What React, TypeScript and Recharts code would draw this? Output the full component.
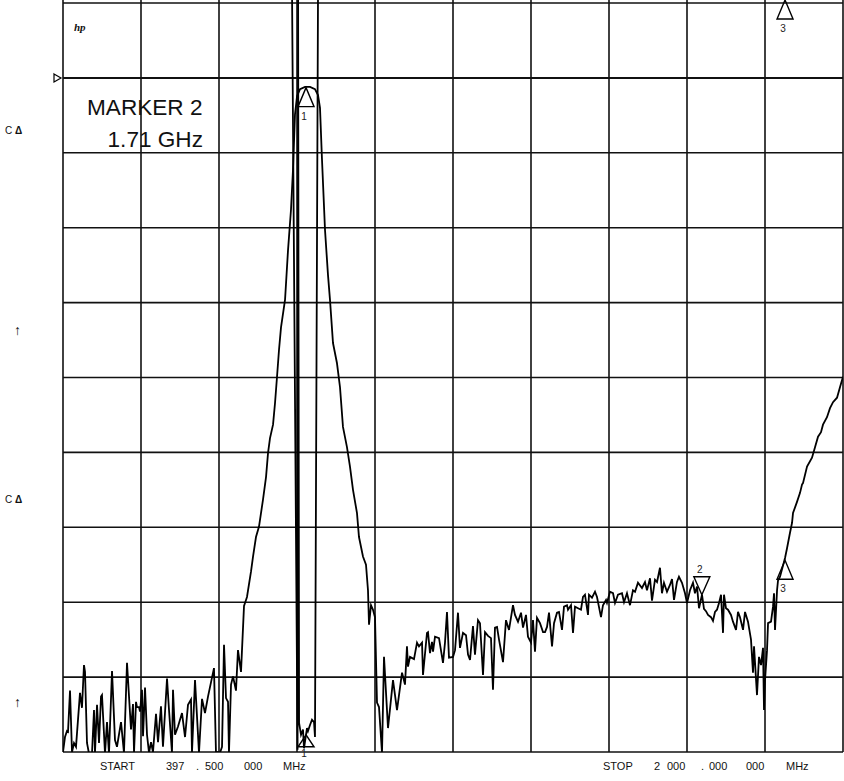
import { LineChart, Line, XAxis, YAxis, ReferenceLine, ReferenceDot } from "recharts";

const FONT = "'Liberation Sans', Arial, sans-serif";

// sweep 397.5 MHz .. 2000 MHz, 10 dB/div, reference (0 dB) one division below top
const START_MHZ = 397.5;
const STOP_MHZ = 2000;
const gridFreqs = [397.5, 557.75, 718, 878.25, 1038.5, 1198.75, 1359, 1519.25, 1679.5, 1839.75, 2000];
const gridLevels = [-90, -80, -70, -60, -50, -40, -30, -20, -10, 0, 10];

// channel 1 trace, [MHz, dB]
const trace1: [number, number][] = [
  [397.5, -90.0], [401.6, -88.0], [405.7, -87.2], [407.8, -87.3], [411.9, -81.8], [416.0, -90.0], [420.1, -88.8],
  [424.2, -89.3], [432.4, -82.1], [436.5, -84.1], [440.6, -78.4], [442.7, -79.3], [446.8, -88.8], [450.9, -90.2],
  [457.1, -90.2], [461.2, -84.4], [463.2, -90.1], [467.4, -83.7], [471.5, -88.8], [475.6, -82.6], [477.6, -82.4],
  [483.8, -90.2], [487.9, -86.0], [492.0, -90.2], [498.2, -79.2], [504.3, -88.4], [508.4, -89.3], [516.7, -86.0],
  [522.8, -90.1], [529.0, -78.1], [537.2, -87.0], [541.3, -83.6], [543.4, -90.1], [547.5, -83.3], [549.5, -84.0],
  [553.6, -84.0], [555.7, -84.6], [559.8, -81.7], [561.9, -87.9], [566.0, -81.4], [570.1, -87.7], [574.2, -90.1],
  [578.3, -88.7], [582.4, -90.0], [588.6, -84.9], [592.7, -88.7], [598.8, -83.9], [602.9, -89.3], [611.2, -80.2],
  [615.3, -84.4], [621.4, -90.1], [623.5, -81.7], [627.6, -87.7], [633.8, -86.6], [642.0, -84.8], [648.2, -88.0],
  [654.3, -83.7], [660.5, -83.0], [662.5, -90.1], [668.7, -80.4], [676.9, -90.1], [683.1, -82.9], [689.2, -84.8],
  [695.4, -82.6], [707.7, -78.8], [711.8, -90.1], [715.9, -90.0], [720.1, -90.1], [724.2, -89.3], [728.3, -75.7],
  [732.4, -82.8], [736.5, -83.3], [738.5, -90.1], [742.7, -81.0], [746.8, -79.9], [752.9, -81.8], [757.0, -76.4],
  [763.2, -79.3], [769.4, -70.5], [773.5, -69.7], [775.5, -69.3],
  [783.8, -65.9], [787.9, -63.9], [794.0, -61.3], [800.2, -59.9], [808.4, -56.3], [814.6, -53.3], [818.7, -50.1],
  [822.8, -48.1], [829.0, -46.3], [833.1, -43.4], [837.2, -39.9], [841.3, -36.3], [845.4, -33.3], [853.7, -29.6],
  [859.8, -23.0], [865.9, -17.6], [870.0, -12.3], [874.1, -4.9], [878.4, -2.4], [884.5, -1.5], [894.7, -1.2],
  [905.0, -1.2], [915.2, -1.5], [921.4, -2.3], [925.5, -4.0], [929.6, -10.9], [935.8, -20.3], [941.9, -26.3],
  [946.0, -29.6], [952.2, -35.4], [960.4, -38.1], [966.6, -41.3], [972.7, -46.6], [980.9, -49.3], [987.1, -51.9],
  [993.3, -55.0], [1001.5, -58.1], [1005.6, -61.3], [1013.8, -63.9], [1020.0, -65.0], [1024.1, -68.4],
  [1026.2, -73.0], [1030.3, -70.4], [1034.4, -71.0], [1038.5, -72.0], [1042.6, -83.4], [1046.7, -84.0],
  [1052.9, -90.1], [1057.0, -77.3], [1065.2, -86.8], [1075.5, -80.4], [1083.7, -84.4], [1094.0, -79.4],
  [1100.1, -81.0], [1104.2, -75.9], [1106.3, -78.6], [1110.4, -77.3], [1118.6, -77.6], [1124.8, -75.4],
  [1128.9, -75.9], [1135.1, -75.4], [1137.1, -79.7], [1145.3, -74.1], [1147.4, -74.0], [1151.5, -76.8],
  [1155.6, -75.3], [1157.7, -76.6], [1161.8, -74.6], [1170.0, -74.8], [1178.2, -78.1], [1182.3, -75.4],
  [1186.4, -71.3], [1190.5, -77.4], [1198.8, -77.3], [1202.9, -76.4], [1209.0, -71.4], [1213.1, -76.1],
  [1219.3, -74.1], [1225.5, -74.4], [1229.6, -77.0], [1233.7, -77.7], [1239.8, -73.2], [1243.9, -77.0],
  [1250.1, -72.4], [1254.2, -72.8], [1260.4, -79.7], [1264.5, -74.0], [1270.7, -74.5], [1276.8, -74.8],
  [1280.9, -81.7], [1285.0, -73.4], [1289.2, -73.3], [1293.3, -75.0], [1301.5, -78.0], [1307.6, -72.4],
  [1313.8, -73.7], [1322.0, -70.4], [1326.1, -71.7], [1332.3, -72.6], [1338.5, -71.4], [1342.6, -73.4],
  [1348.7, -71.7], [1352.8, -74.6], [1359.0, -75.4], [1363.1, -72.4], [1367.2, -76.6], [1371.3, -72.1],
  [1377.5, -72.8], [1383.7, -74.0], [1387.8, -74.0], [1391.9, -73.3], [1396.0, -71.4], [1402.2, -75.9],
  [1406.3, -72.8], [1412.4, -71.4], [1416.5, -71.3], [1422.7, -73.7], [1426.8, -70.6], [1433.0, -70.4],
  [1435.0, -71.0], [1441.2, -70.4], [1445.3, -74.1], [1449.4, -70.6], [1455.6, -70.8], [1461.7, -71.0],
  [1465.8, -69.3], [1469.9, -69.0], [1476.1, -71.7], [1478.1, -69.0], [1484.3, -69.4], [1490.5, -68.6],
  [1494.6, -69.3], [1502.8, -72.0], [1506.9, -70.4], [1513.1, -69.7], [1515.1, -70.1], [1521.3, -68.6],
  [1527.5, -68.8], [1531.6, -70.1], [1537.7, -69.0], [1545.9, -68.8], [1550.1, -70.0], [1556.2, -68.8],
  [1562.4, -70.4], [1568.5, -68.4], [1572.7, -68.6], [1578.8, -67.4], [1587.0, -68.1], [1593.2, -67.3],
  [1597.3, -68.4], [1603.5, -66.8], [1607.6, -69.8], [1613.7, -67.0], [1617.9, -67.3], [1624.0, -65.4],
  [1628.1, -68.8], [1632.2, -67.4], [1638.4, -68.6], [1644.5, -67.7], [1648.7, -66.9], [1652.8, -69.7],
  [1658.9, -67.3], [1663.0, -66.6], [1669.2, -67.4], [1675.4, -68.8], [1679.5, -70.1], [1685.7, -68.4],
  [1691.8, -67.4], [1695.9, -68.8], [1700.1, -67.9], [1704.2, -70.8], [1710.3, -69.0], [1714.4, -70.9],
  [1718.5, -71.2], [1722.7, -71.7], [1728.8, -72.0], [1732.9, -72.5], [1737.0, -71.3], [1741.1, -71.0],
  [1745.3, -70.1], [1749.4, -69.0], [1753.5, -74.1], [1755.5, -69.0], [1759.6, -70.8], [1763.7, -71.0],
  [1769.9, -71.7], [1774.0, -72.6], [1780.2, -73.7], [1784.3, -71.3], [1788.4, -72.0], [1794.6, -73.7],
  [1798.7, -71.3], [1804.8, -72.6], [1811.0, -75.0], [1815.1, -79.4], [1817.2, -75.9], [1823.3, -82.4],
  [1827.4, -77.3], [1831.6, -78.4], [1835.7, -76.1], [1837.7, -84.4], [1839.8, -80.4], [1843.9, -76.4],
  [1846.0, -72.8], [1852.1, -72.6], [1856.2, -70.6], [1858.3, -68.8], [1860.3, -73.7], [1864.5, -68.4],
  [1866.5, -67.1], [1870.6, -66.6], [1880.9, -64.1], [1885.0, -62.8], [1891.2, -60.7], [1895.3, -59.4],
  [1897.3, -58.1], [1905.5, -56.6], [1911.7, -55.4], [1915.8, -54.3], [1917.8, -54.1], [1926.1, -51.9],
  [1936.3, -50.7], [1942.5, -49.3], [1948.7, -47.9], [1954.8, -47.3], [1958.9, -46.3], [1967.1, -45.3],
  [1973.3, -44.1], [1979.5, -43.3], [1987.7, -42.7], [1993.8, -41.3], [2000.0, -39.9],
];

// channel 2 trace: off screen above the top except in the narrow band
const trace2: [number, number][] = [
  [868.1, 11], [879.4, -89.7], [880.5, 11], [882.5, -86.1], [886.5, -87.7], [890.6, -87.0], [892.6, -89.5],
  [898.8, -86.8], [900.8, -87.2], [905.0, -86.4], [909.1, -85.7], [913.2, -86.0], [915.2, -88.0], [921.4, 11],
];

// markers: [label, MHz, dB, pointing]
const markers1: [string, number, number, "up" | "down"][] = [
  ["1", 896.8, -1.3, "up"],
  ["2", 1710, -69.0, "down"],
  ["3", 1880.9, -64.4, "up"],
];
const markers2: [string, number, number, "up" | "down"][] = [
  ["1", 896.8, -87.7, "up"],
  ["3", 1880.9, 10.4, "up"],
];

const toPoints = (t: [number, number][]) => t.map(([f, db]) => ({ f, db }));

const Tri = ({ cx, cy, label, down, h }: any) => {
  const base = down ? cy - h : cy + h;
  const labelY = down ? base - 4 : base + (h < 15 ? 10 : 13);
  return (
    <g>
      <polygon
        points={`${cx},${cy} ${cx - 8},${base} ${cx + 8},${base}`}
        fill="none"
        stroke="#000"
        strokeWidth={1.4}
      />
      <text x={cx - 2} y={labelY} textAnchor="middle" fontSize={10} fontFamily={FONT} fill="#222">
        {label}
      </text>
    </g>
  );
};

const RefArrow = ({ cx, cy }: any) => (
  <polygon points={`${cx - 9},${cy - 4} ${cx - 2},${cy} ${cx - 9},${cy + 4}`} fill="none" stroke="#000" strokeWidth={1.2} />
);

const txt = { fontFamily: FONT, fill: "#111" };

export default function App() {
  return (
    <div style={{ position: "relative", width: 844, height: 781, background: "#fff" }}>
      <style>{"body{margin:0}"}</style>
      <LineChart width={844} height={781} margin={{ top: 0, right: 1, bottom: 29, left: 63 }}>
        <XAxis type="number" dataKey="f" domain={[START_MHZ, STOP_MHZ]} allowDataOverflow hide />
        <YAxis type="number" dataKey="db" domain={[-90, 10.4]} allowDataOverflow hide />
        {gridFreqs.map((f) => (
          <ReferenceLine key={"gx" + f} x={f} stroke="#111" strokeWidth={1.6} ifOverflow="visible" />
        ))}
        {gridLevels.map((v) => (
          <ReferenceLine key={"gy" + v} y={v} stroke="#111" strokeWidth={v === 0 ? 2 : 1.6} ifOverflow="visible" />
        ))}
        <Line data={toPoints(trace1)} dataKey="db" type="linear" dot={false} stroke="#000" strokeWidth={1.8} isAnimationActive={false} />
        <Line data={toPoints(trace2)} dataKey="db" type="linear" dot={false} stroke="#000" strokeWidth={1.8} isAnimationActive={false} />
        <ReferenceDot x={START_MHZ} y={0} ifOverflow="visible" shape={(p: any) => <RefArrow cx={p.cx} cy={p.cy} />} />
        {markers1.map(([id, f, db, dir]) => (
          <ReferenceDot
            key={"m1" + id}
            x={f}
            y={db}
            ifOverflow="visible"
            shape={(p: any) => <Tri cx={p.cx} cy={p.cy} label={id} down={dir === "down"} h={dir === "down" ? 18 : 19} />}
          />
        ))}
        {markers2.map(([id, f, db]) => (
          <ReferenceDot
            key={"m2" + id}
            x={f}
            y={db}
            ifOverflow="visible"
            shape={(p: any) => <Tri cx={p.cx} cy={p.cy} label={id} down={false} h={id === "1" ? 12 : 19} />}
          />
        ))}
      </LineChart>
      <svg width={844} height={781} style={{ position: "absolute", left: 0, top: 0, pointerEvents: "none" }}>
        <text x={74} y={31} fontSize={11} fontStyle="italic" fontWeight="bold" fontFamily="'Liberation Serif', serif" fill="#111">
          hp
        </text>
        <text x={87} y={115} fontSize={22.6} {...txt}>MARKER 2</text>
        <text x={203} y={147} fontSize={22.6} textAnchor="end" {...txt}>1.71 GHz</text>

        <text x={5} y={134} fontSize={10} {...txt}>C</text>
        <text x={15} y={134} fontSize={10} fontWeight="bold" {...txt}>Δ</text>
        <text x={5} y={503} fontSize={10} {...txt}>C</text>
        <text x={15} y={503} fontSize={10} fontWeight="bold" {...txt}>Δ</text>
        <text x={14} y={335} fontSize={14} fontWeight="bold" {...txt}>↑</text>
        <text x={14} y={707} fontSize={14} fontWeight="bold" {...txt}>↑</text>

        <g fontSize={11} {...txt}>
          <text x={100} y={770}>START</text>
          <text x={166} y={770}>397</text>
          <text x={196} y={770}>.</text>
          <text x={205} y={770}>500</text>
          <text x={244} y={770}>000</text>
          <text x={283} y={770}>MHz</text>
          <text x={603} y={770}>STOP</text>
          <text x={654} y={770}>2</text>
          <text x={667} y={770}>000</text>
          <text x={701} y={770}>.</text>
          <text x={709} y={770}>000</text>
          <text x={746} y={770}>000</text>
          <text x={786} y={770}>MHz</text>
        </g>
      </svg>
    </div>
  );
}
